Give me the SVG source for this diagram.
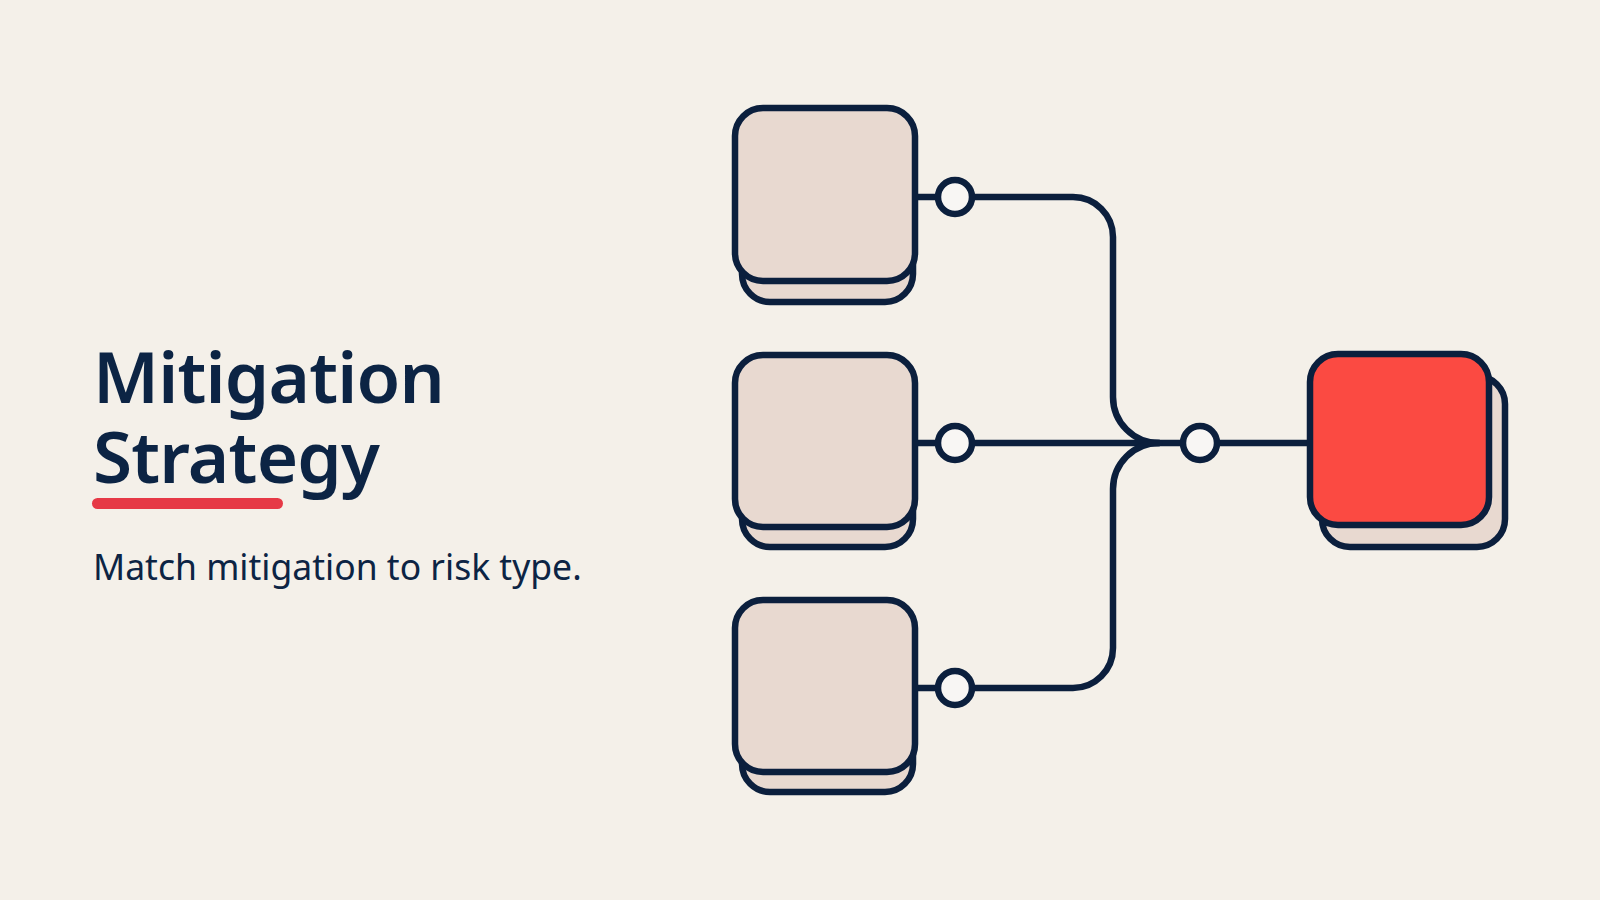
<svg xmlns="http://www.w3.org/2000/svg" width="1600" height="900" viewBox="0 0 1600 900">
  <style>
    .bg { fill: #f4f0e9; }
    .card { fill: #e8d9d0; stroke: #0b1f3d; stroke-width: 6.5; }
    .hot { fill: #fb4a42; stroke: #0b1f3d; stroke-width: 6.5; }
    .wire { fill: none; stroke: #0b1f3d; stroke-width: 6.5; stroke-linecap: round; stroke-linejoin: round; }
    .port { fill: #f8f6f4; stroke: #0b1f3d; stroke-width: 6.5; }
    .title { font-family: "Noto Sans", "Open Sans", sans-serif; font-weight: 600; font-size: 71px; letter-spacing: -0.8px; fill: #0c2444; }
    .sub { font-family: "Noto Sans", "Open Sans", sans-serif; font-weight: 400; font-size: 35.5px; fill: #0c2444; }
  </style>
  <rect class="bg" x="0" y="0" width="1600" height="900"/>

  <g id="title">
    <text class="title" x="93" y="403">Mitigation<tspan x="93" y="483">Strategy</tspan></text>
    <rect x="92" y="498" width="191" height="11" rx="5.5" fill="#e63946"/>
    <text class="sub" x="93" y="580">Match mitigation to risk type.</text>
  </g>

  <g id="connectors">
    <path class="wire" d="M918 197 H1073 A40 40 0 0 1 1113 237 V397 A46 46 0 0 0 1159 443"/>
    <path class="wire" d="M918 443 H1307"/>
    <path class="wire" d="M918 688 H1073 A40 40 0 0 0 1113 648 V489 A46 46 0 0 1 1159 443"/>
  </g>

  <g id="node-1">
    <rect class="card" x="742" y="132" width="171" height="170" rx="28"/>
    <rect class="card" x="735" y="108" width="180" height="173" rx="28"/>
  </g>
  <g id="node-2">
    <rect class="card" x="742" y="377" width="171" height="170" rx="28"/>
    <rect class="card" x="735" y="355" width="180" height="172" rx="28"/>
  </g>
  <g id="node-3">
    <rect class="card" x="742" y="622" width="171" height="170" rx="28"/>
    <rect class="card" x="735" y="600" width="180" height="172" rx="28"/>
  </g>
  <g id="node-target">
    <rect class="card" x="1322" y="376" width="183" height="171" rx="28"/>
    <rect class="hot" x="1310" y="354" width="179" height="171" rx="28"/>
  </g>

  <g id="ports">
    <circle class="port" cx="955" cy="197" r="17"/>
    <circle class="port" cx="955" cy="443" r="17"/>
    <circle class="port" cx="955" cy="688" r="17"/>
    <circle class="port" cx="1200" cy="443" r="17"/>
  </g>
</svg>
